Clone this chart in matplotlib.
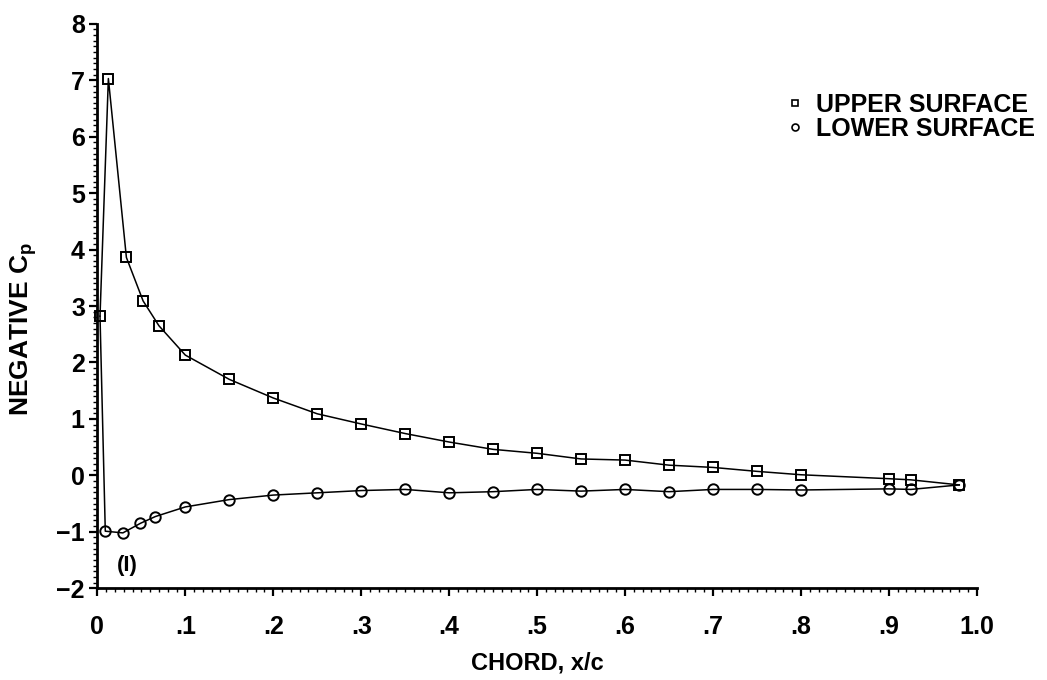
import matplotlib
matplotlib.use("Agg")
import matplotlib.pyplot as plt
from matplotlib.lines import Line2D
from matplotlib.ticker import MultipleLocator, FuncFormatter

plt.rcParams['font.family'] = ['Liberation Sans', 'DejaVu Sans']
plt.rcParams['font.weight'] = 'bold'
plt.rcParams['mathtext.fontset'] = 'custom'
plt.rcParams['mathtext.rm'] = 'Liberation Sans:bold'
plt.rcParams['mathtext.bf'] = 'Liberation Sans:bold'

# upper surface taps (first point is the leading edge)
x_upper = [0.003, 0.0125, 0.033, 0.052, 0.07, 0.10, 0.15, 0.20, 0.25, 0.30, 0.35,
           0.40, 0.45, 0.50, 0.55, 0.60, 0.65, 0.70, 0.75, 0.80, 0.90, 0.925, 0.98]
cp_upper = [2.82, 7.03, 3.86, 3.09, 2.65, 2.13, 1.70, 1.37, 1.09, 0.91, 0.74,
            0.59, 0.46, 0.39, 0.29, 0.27, 0.18, 0.14, 0.07, 0.01, -0.06, -0.08, -0.17]

# lower surface taps
x_lower = [0.009, 0.029, 0.049, 0.066, 0.10, 0.15, 0.20, 0.25, 0.30, 0.35, 0.40,
           0.45, 0.50, 0.55, 0.60, 0.65, 0.70, 0.75, 0.80, 0.90, 0.925, 0.98]
cp_lower = [-0.99, -1.02, -0.85, -0.73, -0.56, -0.43, -0.35, -0.31, -0.27, -0.25, -0.31,
            -0.29, -0.25, -0.28, -0.25, -0.29, -0.25, -0.25, -0.26, -0.24, -0.25, -0.17]

fig = plt.figure(figsize=(10.47, 6.8), dpi=100)
ax = fig.add_axes([0.093, 0.135, 0.84, 0.83])

# connecting curves (lower curve starts at the leading edge point)
ax.plot(x_upper, cp_upper, color='black', lw=1.1, clip_on=False)
ax.plot([x_upper[0]] + x_lower, [cp_upper[0]] + cp_lower, color='black', lw=1.1, clip_on=False)

ax.plot(x_upper, cp_upper, ls='none', marker='s', ms=7.5, mfc='none', mec='black', mew=1.4, clip_on=False)
ax.plot(x_lower, cp_lower, ls='none', marker='o', ms=7.5, mfc='none', mec='black', mew=1.4, clip_on=False)

ax.set_xlim(0, 1.0)
ax.set_ylim(-2, 8)

ax.xaxis.set_major_locator(MultipleLocator(0.1))
ax.xaxis.set_minor_locator(MultipleLocator(0.01))
ax.yaxis.set_major_locator(MultipleLocator(1))
ax.yaxis.set_minor_locator(MultipleLocator(0.1))


def xfmt(v, pos):
    if abs(v) < 1e-9:
        return '0'
    if abs(v - 1.0) < 1e-9:
        return '1.0'
    return ('%.1f' % v)[1:]


ax.xaxis.set_major_formatter(FuncFormatter(xfmt))
ax.yaxis.set_major_formatter(FuncFormatter(lambda v, p: ('%d' % round(v)).replace('-', '\u2212')))

for s in ['top', 'right']:
    ax.spines[s].set_visible(False)
for s in ['left', 'bottom']:
    ax.spines[s].set_linewidth(2.0)

ax.tick_params(which='major', direction='out', length=6, width=1.6, labelsize=18)
ax.tick_params(which='minor', direction='out', length=3, width=1.0)
ax.tick_params(axis='x', which='major', pad=13)
ax.tick_params(axis='y', which='major', pad=3)
for lab in ax.get_xticklabels() + ax.get_yticklabels():
    lab.set_fontweight('bold')

ax.set_xlabel('CHORD, x/c', fontsize=17, fontweight='bold', labelpad=9)
ax.set_ylabel(r'NEGATIVE C$_\mathrm{p}$', fontsize=19, fontweight='bold')
ax.yaxis.set_label_coords(-0.066, 0.46)

ax.text(0.034, -1.59, '(I)', fontsize=16, fontweight='bold', ha='center', va='center')

handles = [Line2D([], [], ls='none', marker='s', ms=5, mfc='none', mec='black', mew=1.2),
           Line2D([], [], ls='none', marker='o', ms=5, mfc='none', mec='black', mew=1.2)]
ax.legend(handles, ['UPPER SURFACE', 'LOWER SURFACE'], loc='upper left',
          bbox_to_anchor=(0.77, 0.895), frameon=False, handlelength=0.8,
          handletextpad=0.45, labelspacing=0.0, borderaxespad=0,
          prop={'size': 18, 'weight': 'bold'})

fig.savefig('out.png', dpi=100)
